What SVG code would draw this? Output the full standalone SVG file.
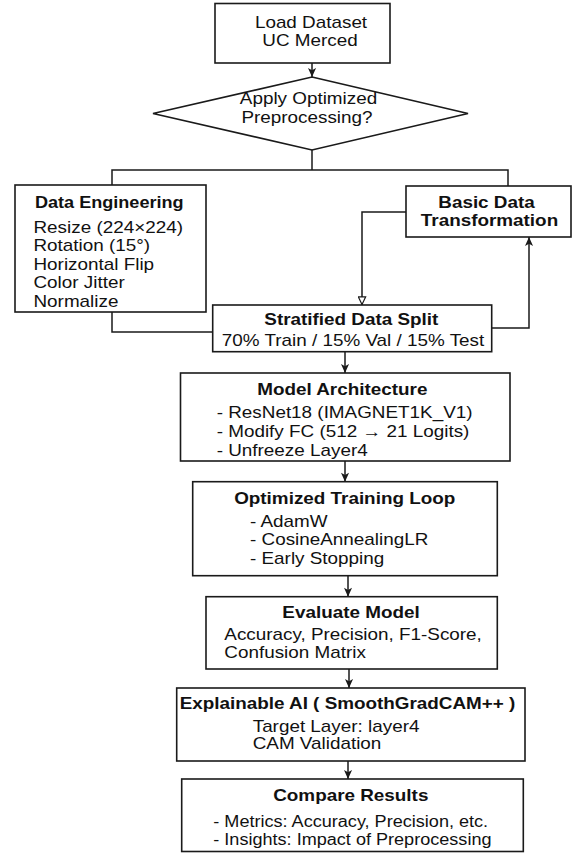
<svg xmlns="http://www.w3.org/2000/svg" width="573" height="853" viewBox="0 0 573 853">
<defs>
<style>
.box{fill:#fff;stroke:#1a1a1a;stroke-width:1.6}
.ln{fill:none;stroke:#1a1a1a;stroke-width:1.5}
text{font-family:"Liberation Sans",Arial,Helvetica,sans-serif;font-size:16px;fill:#111}
.b{font-weight:bold}
.m{text-anchor:middle}
</style>
<marker id="ah" viewBox="0 0 10 10" refX="10" refY="5" markerWidth="10" markerHeight="9" markerUnits="userSpaceOnUse" orient="auto">
<path d="M0,0.5 L10,5 L0,9.5 L2.5,5 z" fill="#1a1a1a"/>
</marker>
<marker id="ahh" viewBox="0 0 10 10" refX="10" refY="5" markerWidth="9" markerHeight="9" markerUnits="userSpaceOnUse" orient="auto">
<path d="M1,1 L9.5,5 L1,9 z" fill="#fff" stroke="#1a1a1a" stroke-width="1.3"/>
</marker>
</defs>
<rect width="573" height="853" fill="#fff"/>

<g id="connectors">
<line class="ln" x1="312" y1="63" x2="312" y2="77" marker-end="url(#ah)"/>
<polyline class="ln" points="312,150 312,170"/>
<polyline class="ln" points="112,185 112,170 508,170 508,186"/>
<polyline class="ln" points="406,212 362,212 362,305" marker-end="url(#ahh)"/>
<polyline class="ln" points="112,312 112,332 213,332"/>
<polyline class="ln" points="491.7,328 529,328 529,237" marker-end="url(#ah)"/>
<line class="ln" x1="345" y1="352" x2="345" y2="373" marker-end="url(#ah)"/>
<line class="ln" x1="345" y1="461" x2="345" y2="481.7" marker-end="url(#ah)"/>
<line class="ln" x1="348" y1="575.7" x2="348" y2="596.7" marker-end="url(#ah)"/>
<line class="ln" x1="349" y1="669" x2="349" y2="688" marker-end="url(#ah)"/>
<line class="ln" x1="348" y1="761" x2="348" y2="779" marker-end="url(#ah)"/>
</g>

<g id="load">
<rect class="box" x="215" y="3.5" width="175" height="59.5"/>
<text class="m" transform="translate(311 27.5) scale(1.18 1)">Load Dataset</text>
<text class="m" transform="translate(310 46) scale(1.18 1)">UC Merced</text>
</g>

<g id="decision">
<polygon class="box" points="312,77 468,113.5 312,150 153,113.5"/>
<text class="m" transform="translate(308.5 103.5) scale(1.18 1)">Apply Optimized</text>
<text class="m" transform="translate(307 122.5) scale(1.18 1)">Preprocessing?</text>
</g>

<g id="data-engineering">
<rect class="box" x="15" y="185" width="191" height="127"/>
<text class="b" transform="translate(35 207.5) scale(1.13 1)">Data Engineering</text>
<text transform="translate(33.5 232.5) scale(1.18 1)">Resize (224×224)</text>
<text transform="translate(33.5 251) scale(1.18 1)">Rotation (15°)</text>
<text transform="translate(33.5 269.5) scale(1.18 1)">Horizontal Flip</text>
<text transform="translate(33.5 288) scale(1.18 1)">Color Jitter</text>
<text transform="translate(33.5 306.5) scale(1.18 1)">Normalize</text>
</g>

<g id="basic-transform">
<rect class="box" x="406" y="186" width="165" height="51"/>
<text class="b m" transform="translate(486.5 207.5) scale(1.18 1)">Basic Data</text>
<text class="b m" transform="translate(489.5 226) scale(1.18 1)">Transformation</text>
</g>

<g id="split">
<rect class="box" x="212.7" y="305" width="279" height="46.7"/>
<text class="b m" transform="translate(351.3 325) scale(1.18 1)">Stratified Data Split</text>
<text class="m" transform="translate(353 346) scale(1.18 1)">70% Train / 15% Val / 15% Test</text>
</g>

<g id="model">
<rect class="box" x="180.5" y="373" width="329.5" height="88"/>
<text class="b m" transform="translate(342.3 394.5) scale(1.18 1)">Model Architecture</text>
<text transform="translate(216.7 417.5) scale(1.18 1)">- ResNet18 (IMAGNET1K_V1)</text>
<text transform="translate(216.7 436.7) scale(1.18 1)">- Modify FC (512 → 21 Logits)</text>
<text transform="translate(216.7 455.7) scale(1.18 1)">- Unfreeze Layer4</text>
</g>

<g id="training">
<rect class="box" x="192.7" y="481.7" width="304.6" height="94"/>
<text class="b m" transform="translate(344.7 504) scale(1.18 1)">Optimized Training Loop</text>
<text transform="translate(250 526.7) scale(1.18 1)">- AdamW</text>
<text transform="translate(250 545) scale(1.18 1)">- CosineAnnealingLR</text>
<text transform="translate(250 563.5) scale(1.18 1)">- Early Stopping</text>
</g>

<g id="evaluate">
<rect class="box" x="206" y="596.7" width="291.3" height="72.3"/>
<text class="b m" transform="translate(351 618.3) scale(1.18 1)">Evaluate Model</text>
<text transform="translate(224.3 640) scale(1.18 1)">Accuracy, Precision, F1-Score,</text>
<text transform="translate(224.3 657.5) scale(1.18 1)">Confusion Matrix</text>
</g>

<g id="xai">
<rect class="box" x="176.7" y="688" width="348.3" height="73"/>
<text class="b m" transform="translate(347.5 709) scale(1.18 1)">Explainable AI ( SmoothGradCAM++ )</text>
<text transform="translate(252.7 731.7) scale(1.18 1)">Target Layer: layer4</text>
<text transform="translate(252.7 749.3) scale(1.18 1)">CAM Validation</text>
</g>

<g id="compare">
<rect class="box" x="181.7" y="779" width="341.6" height="72.5"/>
<text class="b m" transform="translate(350.8 800.7) scale(1.18 1)">Compare Results</text>
<text transform="translate(213.3 826.7) scale(1.13 1)">- Metrics: Accuracy, Precision, etc.</text>
<text transform="translate(213.3 845) scale(1.13 1)">- Insights: Impact of Preprocessing</text>
</g>
</svg>
